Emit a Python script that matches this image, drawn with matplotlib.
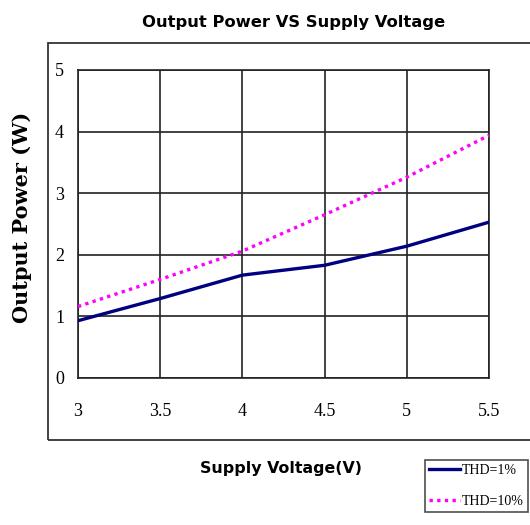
import matplotlib.pyplot as plt
from matplotlib.patches import Rectangle

# supply voltage (V) and output power (W)
voltage = [3.0, 3.5, 4.0, 4.5, 5.0, 5.5]
power_thd1 = [0.93, 1.29, 1.67, 1.83, 2.14, 2.53]
power_thd10 = [1.16, 1.60, 2.06, 2.65, 3.26, 3.94]
series_labels = ["THD=1%", "THD=10%"]
x_ticks = [3, 3.5, 4, 4.5, 5, 5.5]
x_ticklabels = ["3", "3.5", "4", "4.5", "5", "5.5"]
y_ticks = [0, 1, 2, 3, 4, 5]

W, H = 530, 525
fig = plt.figure(figsize=(W / 100, H / 100), dpi=100)

# outer chart border (runs off the right edge like the original)
fig.patches.append(Rectangle((48 / W, 1 - 440 / H), 500 / W, 397 / H,
                             transform=fig.transFigure, fill=False,
                             edgecolor="#333333", linewidth=1.3))

ax = fig.add_axes([78 / W, 1 - 378 / H, (489 - 78) / W, (378 - 70) / H])
ax.set_xlim(3, 5.5)
ax.set_ylim(0, 5)

ax.plot(voltage, power_thd1, color="#000080", linewidth=2.4,
        label=series_labels[0], zorder=3)
ax.plot(voltage, power_thd10, color="#ff00ff", linewidth=2.4,
        linestyle=(0, (1, 1.3)), label=series_labels[1], zorder=3)

ax.set_xticks(x_ticks)
ax.set_yticks(y_ticks)
ax.set_xticklabels(x_ticklabels)
ax.grid(True, color="#222222", linewidth=1.2)
for s in ax.spines.values():
    s.set_color("#222222")
    s.set_linewidth(1.2)
ax.tick_params(length=0, pad=10, labelsize=13)
ax.tick_params(axis="x", pad=18)
for lab in ax.get_xticklabels() + ax.get_yticklabels():
    lab.set_family("Liberation Serif")

fig.text(294 / W, 1 - 22 / H, "Output Power VS Supply Voltage",
         ha="center", va="center", fontsize=11.8, fontweight="bold",
         family="DejaVu Sans")
fig.text(281 / W, 1 - 468 / H, "Supply Voltage(V)", ha="center",
         va="center", fontsize=11.4, fontweight="bold", family="DejaVu Sans")
fig.text(22 / W, 1 - 217 / H, "Output Power (W)", ha="center", va="center",
         rotation=90, fontsize=15, fontweight="bold", family="DejaVu Serif")

leg = fig.legend(loc="upper left", bbox_to_anchor=(425 / W, 1 - 460 / H),
                 frameon=True, fancybox=False, edgecolor="#222222",
                 handlelength=2.2, handletextpad=0.15, borderpad=0.3,
                 borderaxespad=0, labelspacing=1.3,
                 prop={"family": "Liberation Serif", "size": 10})
leg.get_frame().set_linewidth(1.2)

fig.savefig("out.png", dpi=100)
